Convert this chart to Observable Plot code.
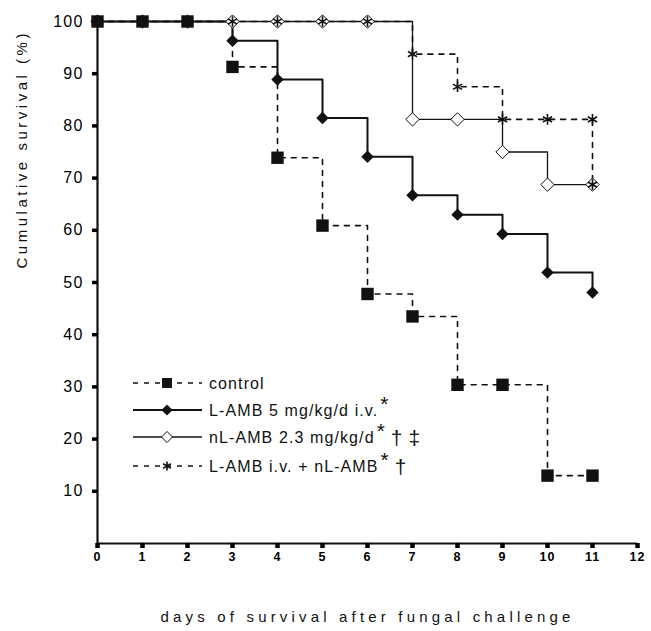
<!DOCTYPE html>
<html><head><meta charset="utf-8">
<script src="https://cdn.jsdelivr.net/npm/d3@7"></script>
<script src="https://cdn.jsdelivr.net/npm/@observablehq/plot@0.6"></script>
<style>
body{margin:0;background:#fff;}
#wrap{position:relative;width:651px;height:631px;font-family:Arial,"Liberation Sans",sans-serif;}
#legend{position:absolute;left:0;top:0;pointer-events:none;}
</style></head><body><div id="wrap"></div>
<script>
// ---- data ----
const days = [0,1,2,3,4,5,6,7,8,9,10,11];
const controlSurvival = [100,100,100,91.3,73.9,60.9,47.8,43.5,30.4,30.4,13.0,13.0];
const lambSurvival    = [100,100,100,96.3,88.9,81.5,74.1,66.7,63.0,59.3,51.9,48.1];
const nlambSurvival   = [100,100,100,100,100,100,100,81.25,81.25,75,68.75,68.75];
const comboDays       = [0,1,2,3,4,5,6,7,8,9,10,11,11];
const comboSurvival   = [100,100,100,100,100,100,100,93.75,87.5,81.25,81.25,81.25,68.75];
const xTicks = [0,1,2,3,4,5,6,7,8,9,10,11,12];
const yTicks = [10,20,30,40,50,60,70,80,90,100];
const seriesNames = ["control","L-AMB 5 mg/kg/d i.v.","nL-AMB 2.3 mg/kg/d","L-AMB i.v. + nL-AMB"];
const seriesSup = ["", "*", "*", "*"];
const seriesDaggers = [[], [], ["\u2020", "\u2021"], ["\u2020"]];
const xLabel = "days of survival after fungal challenge";
const yLabel = "Cumulative survival (%)";

const rows = (xs, ys) => xs.map((d, i) => ({day: d, s: ys[i]}));
const control = rows(days, controlSurvival);
const lamb = rows(days, lambSurvival);
const nlamb = rows(days, nlambSurvival);
const combo = rows(comboDays, comboSurvival);

// ---- styles ----
const ink = "#111";
const styles = [
  {line:{stroke:ink, strokeWidth:1.6, strokeDasharray:"5,6"}, dot:{symbol:"square", r:7, fill:ink, stroke:"none"}, legendR:5.6},
  {line:{stroke:ink, strokeWidth:2}, dot:{symbol:"diamond2", r:5.6, fill:ink, stroke:"none"}, legendR:5},
  {line:{stroke:ink, strokeWidth:1.3}, dot:{symbol:"diamond2", r:6, fill:"white", stroke:ink, strokeWidth:1}, legendR:5},
  {line:{stroke:ink, strokeWidth:1.6, strokeDasharray:"5,6"}, dot:{symbol:"asterisk", r:5, fill:"none", stroke:ink, strokeWidth:1.6}, legendR:4.2}
];
const xy = {x:"day", y:"s"};

const chart = Plot.plot({
  width: 651, height: 631,
  marginLeft: 97, marginRight: 14, marginTop: 21, marginBottom: 88,
  style: {fontFamily: "Arial, 'Liberation Sans', sans-serif", color: "#000", background: "#fff"},
  x: {domain: [0, 12]},
  y: {domain: [0, 100]},
  marks: [
    Plot.line(combo, {...xy, curve: "step-after", ...styles[3].line}),
    Plot.line(nlamb, {...xy, curve: "step-after", ...styles[2].line}),
    Plot.line(lamb, {...xy, curve: "step-after", ...styles[1].line}),
    Plot.line(control, {...xy, curve: "step-after", ...styles[0].line}),
    Plot.ruleX([0], {y1: 0, y2: 100, stroke: ink, strokeWidth: 2.2}),
    Plot.ruleY([0], {x1: 0, x2: 12, stroke: ink, strokeWidth: 2.2}),
    Plot.axisY({ticks: yTicks, tickSize: 5, strokeWidth: 3.5, tickPadding: 9, fontSize: 16, label: null, tickFormat: d => d}),
    Plot.axisX({ticks: xTicks, tickSize: 5, strokeWidth: 4.5, tickPadding: 4, fontSize: 12.5, label: null, tickFormat: d => d}),
    Plot.dot(nlamb, {...xy, ...styles[2].dot}),
    Plot.dot(combo, {...xy, ...styles[3].dot}),
    Plot.dot(lamb, {...xy, ...styles[1].dot}),
    Plot.dot(control, {...xy, ...styles[0].dot}),
    Plot.text([xLabel], {frameAnchor: "bottom", lineAnchor: "middle", dy: 74, fontSize: 15, fill: ink, ariaLabel: () => "xlabel"}),
    Plot.text([yLabel], {frameAnchor: "left", dx: -75, dy: -14, rotate: -90, fontSize: 15, fill: ink, ariaLabel: () => "ylabel"})
  ]
});

const wrap = document.getElementById("wrap");
wrap.appendChild(chart);

// y tick labels: slightly spaced digits like the reference
d3.select(chart).selectAll('g[aria-label="y-axis tick label"] text').attr("letter-spacing", 1.2);
d3.select(chart).selectAll('g[aria-label="x-axis tick label"] text').attr("letter-spacing", 1).attr("font-weight", "bold");

// spread the axis titles like the reference
function spread(text, target) {
  const t = Array.from(chart.querySelectorAll("text")).find(e => e.textContent === text);
  if (!t) return;
  const n = text.length;
  const w = t.getComputedTextLength();
  const ls = Math.max(0, (target - w) / (n - 1));
  t.setAttribute("letter-spacing", ls.toFixed(2));
}
spread(xLabel, 410);
spread(yLabel, 235);

// ---- legend overlay ----
const leg = d3.select(wrap).append("svg").attr("id", "legend")
  .attr("width", 651).attr("height", 631)
  .style("font-family", "Arial, 'Liberation Sans', sans-serif");
const rowY = [383, 410, 437, 466];
const symMap = {square: d3.symbolSquare, diamond2: d3.symbolDiamond2, asterisk: d3.symbolAsterisk};
seriesNames.forEach((name, i) => {
  const st = styles[i];
  const g = leg.append("g").attr("transform", `translate(0,${rowY[i]})`);
  g.append("line").attr("x1", 133).attr("x2", 202).attr("y1", 0).attr("y2", 0)
    .attr("stroke", st.line.stroke).attr("stroke-width", st.line.strokeWidth)
    .attr("stroke-dasharray", st.line.strokeDasharray || null);
  const r = st.legendR;
  g.append("path").attr("transform", "translate(167,0)")
    .attr("d", d3.symbol(symMap[st.dot.symbol], Math.PI * r * r)())
    .attr("fill", st.dot.fill).attr("stroke", st.dot.stroke)
    .attr("stroke-width", st.dot.strokeWidth || null);
  const t = g.append("text").attr("x", 209).attr("y", 6).attr("font-size", 16).attr("fill", ink);
  t.append("tspan").attr("letter-spacing", 1.1).text(name);
  if (seriesSup[i]) t.append("tspan").attr("font-size", 21).attr("dx", 2).attr("dy", -5).text(seriesSup[i]);
  seriesDaggers[i].forEach((dg, k) => {
    t.append("tspan").attr("font-size", 21).attr("dx", 6).attr("dy", k === 0 ? 7 : 0).text(dg);
  });
});
</script>
</body></html>
